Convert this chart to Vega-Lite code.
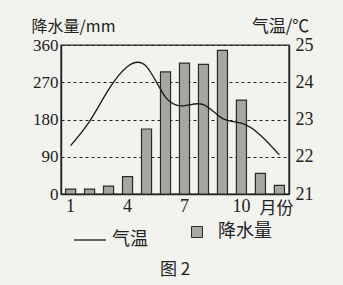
{
  "$schema": "https://vega.github.io/schema/vega-lite/v6.json",
  "width": 228,
  "height": 149,
  "autosize": "none",
  "padding": {"left": 61, "top": 45, "right": 54, "bottom": 91},
  "background": "#f2f2ee",
  "title": {
    "text": "图 2",
    "orient": "bottom",
    "anchor": "middle",
    "frame": "group",
    "offset": 13,
    "fontSize": 17,
    "fontWeight": "normal",
    "font": "Noto Sans CJK SC",
    "color": "#222"
  },
  "config": {
    "font": "Liberation Serif, Noto Sans CJK SC",
    "view": {"stroke": "#222", "strokeWidth": 1.4},
    "axis": {
      "labelFont": "Liberation Serif",
      "labelFontSize": 18,
      "labelColor": "#222",
      "titleFont": "Noto Sans CJK SC",
      "titleFontSize": 16,
      "titleFontWeight": "normal",
      "titleColor": "#222",
      "ticks": false,
      "domainColor": "#222",
      "domainWidth": 1.4
    },
    "legend": {
      "labelFont": "Noto Sans CJK SC",
      "labelFontSize": 18,
      "labelColor": "#222",
      "orient": "none",
      "direction": "horizontal"
    }
  },
  "data": {
    "values": [
      {"month": 1, "precip": 12, "temp": 22.3},
      {"month": 2, "precip": 12, "temp": 22.95},
      {"month": 3, "precip": 19, "temp": 23.8},
      {"month": 4, "precip": 42, "temp": 24.42},
      {"month": 5, "precip": 157, "temp": 24.42},
      {"month": 6, "precip": 295, "temp": 23.6},
      {"month": 7, "precip": 316, "temp": 23.37},
      {"month": 8, "precip": 313, "temp": 23.4},
      {"month": 9, "precip": 347, "temp": 23.03},
      {"month": 10, "precip": 227, "temp": 22.9},
      {"month": 11, "precip": 50, "temp": 22.58},
      {"month": 12, "precip": 21, "temp": 22.05}
    ]
  },
  "encoding": {
    "x": {
      "field": "month",
      "type": "ordinal",
      "scale": {"paddingInner": 0.47, "paddingOuter": 0.24},
      "axis": {
        "title": "月份",
        "titleX": 215,
        "titleY": 14,
        "titleFontSize": 17,
        "titleAlign": "center",
        "titleBaseline": "middle",
        "labelAngle": 0,
        "labelPadding": 3,
        "labelExpr": "indexof(['1','4','7','10'], datum.label) >= 0 ? datum.label : ''"
      }
    }
  },
  "layer": [
    {
      "mark": {"type": "bar", "stroke": "#2a2a2a", "strokeWidth": 1.2},
      "encoding": {
        "y": {
          "field": "precip",
          "type": "quantitative",
          "scale": {"domain": [0, 360], "nice": false},
          "axis": {
            "values": [0, 90, 180, 270, 360],
            "grid": true,
            "gridDash": [3, 3],
            "gridColor": "#222",
            "gridWidth": 1,
            "gridOpacity": 1,
            "labelFontSize": 17,
            "labelPadding": 3,
            "title": "降水量/mm",
            "titleAngle": 0,
            "titleX": 12,
            "titleY": -19,
            "titleAlign": "center",
            "titleBaseline": "middle"
          }
        },
        "fill": {
          "datum": "降水量",
          "scale": {"range": ["#a6a6a2"]},
          "legend": {"legendX": 127, "legendY": 178, "symbolType": "square", "symbolSize": 121, "symbolStrokeColor": "#2a2a2a", "symbolStrokeWidth": 1, "labelOffset": 12, "title": null}
        }
      }
    },
    {
      "mark": {"type": "line", "interpolate": "natural", "strokeWidth": 1.3},
      "encoding": {
        "y": {
          "field": "temp",
          "type": "quantitative",
          "scale": {"domain": [21, 25], "nice": false},
          "axis": {
            "orient": "right",
            "values": [21, 22, 23, 24, 25],
            "grid": false,
            "labelPadding": 6,
            "title": "气温/℃",
            "titleAngle": 0,
            "titleFontSize": 17,
            "titleX": -9,
            "titleY": -19,
            "titleAlign": "center",
            "titleBaseline": "middle"
          }
        },
        "stroke": {
          "datum": "气温",
          "scale": {"range": ["#1a1a1a"]},
          "legend": {"legendX": 12, "legendY": 178, "symbolType": "stroke", "symbolSize": 1024, "symbolStrokeWidth": 1.3, "labelOffset": 5, "title": null}
        }
      }
    }
  ],
  "resolve": {"scale": {"y": "independent", "fill": "independent", "stroke": "independent"}}
}
